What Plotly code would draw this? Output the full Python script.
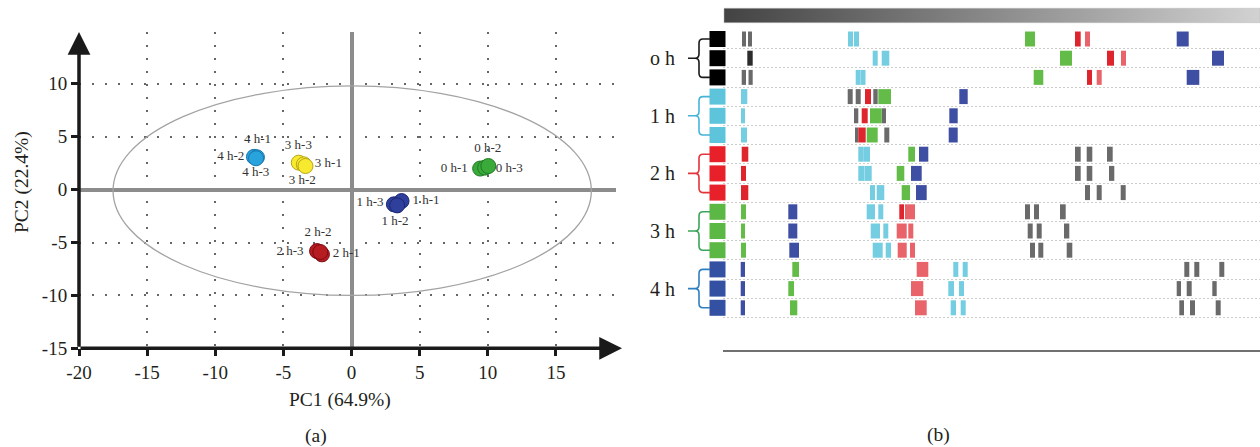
import plotly.graph_objects as go

W, H = 1260, 447
FONT = "Liberation Serif"
TXT = "#231f20"

# ---------------- (a) PCA score plot data ----------------
groups = ["0 h", "1 h", "2 h", "3 h", "4 h"]
grp_fill = ["#3aaa3a", "#2f3f9c", "#b71c22", "#f7ea2e", "#29a3dc"]
grp_edge = ["#1f7a22", "#1b2670", "#7a0e12", "#b5a51a", "#1a78b0"]
pc1 = {
    "0 h": [9.44, 9.80, 10.04],
    "1 h": [3.11, 3.67, 3.35],
    "2 h": [-2.53, -2.17, -2.29],
    "3 h": [-3.87, -3.50, -3.38],
    "4 h": [-7.16, -6.94, -7.01],
}
pc2 = {
    "0 h": [1.99, 2.08, 2.23],
    "1 h": [-1.39, -1.08, -1.49],
    "2 h": [-5.81, -6.12, -5.90],
    "3 h": [2.55, 2.39, 2.23],
    "4 h": [3.10, 3.06, 2.96],
}
lab_text = ["4 h-1", "4 h-2", "4 h-3", "3 h-3", "3 h-1", "3 h-2", "0 h-2", "0 h-1",
            "0 h-3", "1 h-3", "1 h-1", "1 h-2", "2 h-2", "2 h-3", "2 h-1"]
lab_x = [-6.90, -8.86, -7.03, -3.90, -1.70, -3.61, 10.0, 7.54, 11.58, 1.36, 5.47, 3.19,
         -2.46, -4.52, -0.38]
lab_y = [4.69, 3.08, 1.61, 4.19, 2.46, 0.81, 3.91, 1.99, 1.99, -1.23, -1.08, -3.07,
         -4.07, -5.90, -6.05]
x_ticks = [-20, -15, -10, -5, 0, 5, 10, 15]
x_ticktext = ["-20", "-15", "-10", "-5", "0", "5", "10", "15"]
y_ticks = [-15, -10, -5, 0, 5, 10]
y_ticktext = ["-15", "-10", "-5", "0", "5", "10"]
x_range = [-20, 19.85]
y_range = [-15, 14.9]
ellipse_x = [-17.5, 17.6]
ellipse_y = [-10.0, 9.8]

# ---------------- (b) fingerprint data (position units along strip) ----------------
row_groups = ["o h", "1 h", "2 h", "3 h", "4 h"]
square_colors = ["#000000"] * 3 + ["#5ec4dc"] * 3 + ["#e8202a"] * 3 + ["#5cb844"] * 3 + ["#3350a3"] * 3
brace_colors = ["#1a1a1a", "#45b4d8", "#e2343a", "#3aa55a", "#2f7fc0"]

grey_row = [0, 0, 2, 2, 3, 3, 3, 4, 4, 5, 5, 6, 6, 6, 7, 7, 7, 8, 8, 8, 9, 9, 9, 10, 10, 10,
            11, 11, 11, 12, 12, 12, 13, 13, 13, 14, 14, 14]
grey_start = [1.7, 2.3, 1.67, 2.35, 12.27, 13.07, 14.83, 12.9, 15.67, 13.0, 15.93,
              35.0, 36.17, 38.2, 35.0, 36.17, 38.4, 36.0, 37.17, 39.57,
              30.0, 30.9, 33.5, 30.27, 31.17, 33.9, 30.5, 31.33, 34.17,
              45.93, 46.93, 49.43, 45.17, 46.17, 48.73, 45.43, 46.5, 49.07]
grey_width = [0.4, 0.4, 0.43, 0.42, 0.5, 0.5, 0.44, 0.43, 0.43, 0.33, 0.5,
              0.57, 0.56, 0.57, 0.57, 0.56, 0.53, 0.5, 0.5, 0.5,
              0.5, 0.5, 0.57, 0.5, 0.5, 0.53, 0.5, 0.5, 0.56,
              0.5, 0.5, 0.5, 0.43, 0.5, 0.44, 0.47, 0.5, 0.5]

dgrey_row = [1]
dgrey_start = [2.23]
dgrey_width = [0.54]

cyan_row = [0, 0, 1, 1, 2, 2, 3, 4, 5, 6, 6, 7, 7, 8, 8, 9, 9, 10, 10, 11, 11, 12, 12, 13, 13, 14, 14]
cyan_start = [12.3, 12.9, 14.77, 15.67, 13.07, 13.6, 1.6, 1.6, 1.6, 13.33, 13.9, 13.33, 13.95,
              14.5, 15.17, 14.17, 15.33, 14.57, 15.83, 14.77, 16.07, 22.83, 23.77, 22.33, 23.4,
              22.57, 23.57]
cyan_width = [0.5, 0.5, 0.5, 0.76, 0.5, 0.45, 0.63, 0.4, 0.6, 0.55, 0.6, 0.6, 0.72,
              0.5, 0.76, 0.83, 0.5, 0.93, 0.5, 1.0, 0.53, 0.5, 0.5, 0.57, 0.5, 0.53, 0.5]

red_row = [0, 1, 2, 3, 4, 5, 6, 7, 8, 9]
red_start = [35.0, 38.2, 36.2, 14.0, 13.67, 13.33, 1.67, 1.6, 1.6, 17.43]
red_width = [0.57, 0.7, 0.5, 0.6, 0.6, 0.74, 0.66, 0.5, 0.73, 0.47]

lred_row = [0, 1, 2, 9, 10, 10, 11, 11, 12, 13, 14]
lred_start = [36.0, 39.6, 37.17, 18.0, 17.17, 18.33, 17.27, 18.5, 19.17, 18.6, 19.0]
lred_width = [0.5, 0.5, 0.5, 1.0, 1.0, 0.5, 0.9, 0.5, 1.16, 1.23, 1.17]

green_row = [0, 1, 2, 3, 4, 5, 6, 7, 8, 9, 10, 11, 12, 13, 14]
green_start = [30.0, 33.5, 30.87, 15.33, 14.5, 14.17, 18.33, 17.17, 17.67, 1.6, 1.6, 1.6,
               6.73, 6.33, 6.5]
green_width = [1.0, 1.2, 0.96, 1.27, 1.17, 1.1, 0.67, 0.76, 0.83, 0.5, 0.4, 0.5, 0.67, 0.57, 0.73]

blue_row = [0, 1, 2, 3, 4, 5, 6, 7, 8, 9, 10, 11, 12, 13, 14]
blue_start = [45.17, 48.7, 46.17, 23.43, 22.43, 22.37, 19.4, 18.6, 19.1, 6.33, 6.33, 6.43,
              1.57, 1.57, 1.57]
blue_width = [1.2, 1.2, 1.26, 0.84, 0.84, 0.9, 0.93, 1.07, 1.07, 0.9, 0.9, 0.97, 0.43, 0.43, 0.43]

strip_range = [-0.2, 53.5]
row_range = [16.198, -2.031]
gradient_x = [-0.1, 53.5]
gradient_y = [-1.6, -0.85]

fig = go.Figure()

# ---- (a) traces ----
for g, fc, ec in zip(groups, grp_fill, grp_edge):
    fig.add_trace(go.Scatter(
        x=pc1[g], y=pc2[g], mode="markers", xaxis="x", yaxis="y", name=g,
        marker=dict(size=15, color=fc, line=dict(color=ec, width=1)),
    ))
fig.add_trace(go.Scatter(
    x=lab_x, y=lab_y, text=lab_text, mode="text", xaxis="x", yaxis="y",
    textfont=dict(family=FONT, size=13, color="#333333"), textposition="middle center",
))

# ---- (b) traces ----
fig.add_trace(go.Scatter(
    x=[gradient_x[0], gradient_x[1], gradient_x[1], gradient_x[0], gradient_x[0]],
    y=[gradient_y[0], gradient_y[0], gradient_y[1], gradient_y[1], gradient_y[0]],
    mode="lines", line=dict(width=0.5, color="#bbbbbb"), fill="toself",
    fillgradient=dict(type="horizontal", colorscale=[[0, "#434343"], [0.5, "#8a8a8a"], [1, "#d2d2d2"]]),
    xaxis="x2", yaxis="y2",
))

bar_sets = [
    (grey_row, grey_start, grey_width, "#6a6a6a"),
    (dgrey_row, dgrey_start, dgrey_width, "#2c2c2c"),
    (cyan_row, cyan_start, cyan_width, "#74cde0"),
    (red_row, red_start, red_width, "#de242c"),
    (lred_row, lred_start, lred_width, "#e9636a"),
    (green_row, green_start, green_width, "#63bc48"),
    (blue_row, blue_start, blue_width, "#3e4ea2"),
]
for rows, starts, widths, col in bar_sets:
    fig.add_trace(go.Bar(
        orientation="h", y=rows, x=widths, base=starts, width=0.78,
        marker=dict(color=col, line=dict(width=0)), xaxis="x2", yaxis="y2",
    ))

fig.add_trace(go.Scatter(
    x=[-0.75] * len(square_colors), y=list(range(len(square_colors))), mode="markers",
    marker=dict(symbol="square", size=16, color=square_colors, line=dict(width=0)),
    xaxis="x3", yaxis="y3", cliponaxis=False,
))

# ---- braces + group labels ----
shapes = []
annotations = []
x_sq, x_b, x_tip = -1.5, -2.6, -3.7
rx, ry = 0.4, 0.22
for gi, (lab, col) in enumerate(zip(row_groups, brace_colors)):
    yt, ym, yb = 3 * gi, 3 * gi + 1, 3 * gi + 2
    path = (f"M {x_sq},{yt} L {x_b + rx},{yt} Q {x_b},{yt} {x_b},{yt + ry} "
            f"L {x_b},{ym - ry} Q {x_b},{ym} {x_b - rx},{ym} L {x_tip},{ym} "
            f"M {x_b - rx},{ym} Q {x_b},{ym} {x_b},{ym + ry} "
            f"L {x_b},{yb - ry} Q {x_b},{yb} {x_b + rx},{yb} L {x_sq},{yb}")
    shapes.append(dict(type="path", path=path, xref="x3", yref="y3",
                       line=dict(color=col, width=1.6)))
    annotations.append(dict(text=lab, x=-4.8, y=ym, xref="x3", yref="y3", xanchor="right",
                            yanchor="middle", showarrow=False,
                            font=dict(family=FONT, size=20, color=TXT)))

shapes.append(dict(type="circle", xref="x", yref="y", x0=ellipse_x[0], x1=ellipse_x[1],
                   y0=ellipse_y[0], y1=ellipse_y[1], line=dict(color="#a3a3a3", width=1.3)))

# axis arrows
annotations.append(dict(x=x_range[1], y=y_range[0], ax=x_range[0], ay=y_range[0],
                        xref="x", yref="y", axref="x", ayref="y", text="", showarrow=True,
                        arrowhead=2, arrowsize=1.3, arrowwidth=3.5, arrowcolor="#1a1a1a",
                        standoff=0, startstandoff=0))
annotations.append(dict(x=x_range[0], y=y_range[1], ax=x_range[0], ay=y_range[0],
                        xref="x", yref="y", axref="x", ayref="y", text="", showarrow=True,
                        arrowhead=2, arrowsize=1.3, arrowwidth=3.5, arrowcolor="#1a1a1a",
                        standoff=0, startstandoff=0))

annotations += [
    dict(text="PC1 (64.9%)", x=340 / W, y=1 - 400 / H, xref="paper", yref="paper",
         xanchor="center", yanchor="middle",
         showarrow=False, font=dict(family=FONT, size=19.5, color=TXT)),
    dict(text="PC2 (22.4%)", x=22 / W, y=1 - 182 / H, xref="paper", yref="paper",
         xanchor="center", yanchor="middle",
         textangle=-90, showarrow=False, font=dict(family=FONT, size=19.5, color=TXT)),
    dict(text="(a)", x=316 / W, y=1 - 436 / H, xref="paper", yref="paper",
         xanchor="center", yanchor="middle",
         showarrow=False, font=dict(family=FONT, size=19.5, color=TXT)),
    dict(text="(b)", x=938 / W, y=1 - 435 / H, xref="paper", yref="paper",
         xanchor="center", yanchor="middle",
         showarrow=False, font=dict(family=FONT, size=19.5, color=TXT)),
]

tickfont = dict(family=FONT, size=19, color=TXT)
fig.update_layout(
    width=W, height=H, margin=dict(l=0, r=0, t=0, b=0, autoexpand=False),
    paper_bgcolor="white", plot_bgcolor="white", showlegend=False, barmode="overlay",
    shapes=shapes, annotations=annotations,
    xaxis=dict(domain=[79 / W, 622 / W], range=x_range, tickvals=x_ticks, ticktext=x_ticktext,
               ticks="outside", automargin=False,
               ticklen=7, tickwidth=2.5, tickcolor="#1a1a1a", tickfont=tickfont,
               showgrid=True, gridcolor="#666666", gridwidth=1.5, griddash="2px,11px",
               zeroline=True, zerolinecolor="#8c8c8c", zerolinewidth=3.5, showline=False,
               anchor="y"),
    yaxis=dict(domain=[1 - 348.3 / H, 1 - 32 / H], range=y_range, tickvals=y_ticks,
               ticktext=y_ticktext, automargin=False,
               ticks="outside", ticklen=7, tickwidth=2.5, tickcolor="#1a1a1a", tickfont=tickfont,
               showgrid=True, gridcolor="#666666", gridwidth=1.5, griddash="2px,11px",
               zeroline=True, zerolinecolor="#8c8c8c", zerolinewidth=3.5, showline=False,
               anchor="x"),
    xaxis2=dict(domain=[723 / W, 1], range=strip_range, showticklabels=False, ticks="",
                showgrid=False, zeroline=False, showline=True, linecolor="#707070",
                linewidth=2, anchor="y2", automargin=False),
    yaxis2=dict(domain=[1 - 350 / H, 1], range=row_range, tickvals=[k + 0.5 for k in range(15)],
                showticklabels=False, ticks="", showgrid=True, gridcolor="#cccccc",
                gridwidth=1, griddash="2px,2px", zeroline=False, showline=False, anchor="x2",
                automargin=False),
    xaxis3=dict(domain=[616 / W, 723 / W], range=[-10.9, -0.2], visible=False, anchor="y3"),
    yaxis3=dict(domain=[1 - 350 / H, 1], range=row_range, visible=False, anchor="x3"),
)

fig.write_html("out.html")
